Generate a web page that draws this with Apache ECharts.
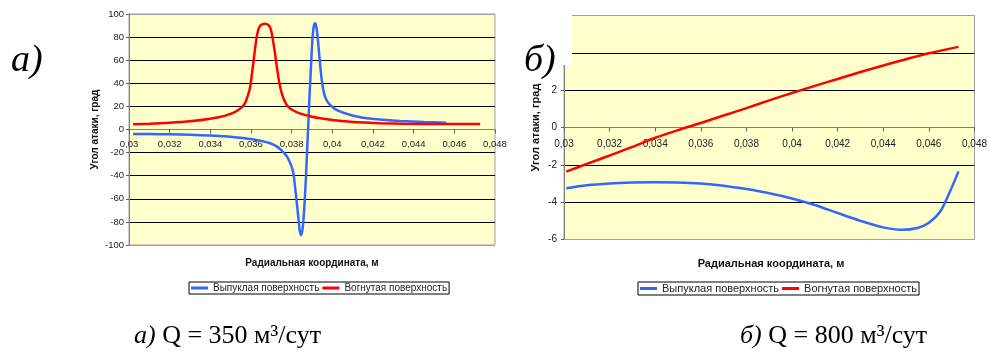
<!DOCTYPE html>
<html><head><meta charset="utf-8">
<script src="https://cdn.jsdelivr.net/npm/echarts@6/dist/echarts.min.js"></script>
<style>html,body{margin:0;padding:0;background:#fff}#c{width:990px;height:352px}</style>
</head><body><div id="c"></div>
<script>
// ---- data ----
const seriesNames = ['Выпуклая поверхность', 'Вогнутая поверхность'];
const xAxisTitle = 'Радиальная координата, м';
const yAxisTitle = 'Угол атаки, град';
const xTicks = [0.03, 0.048, 0.002];      // min, max, step (both panels)
const aYTicks = [-100, 100, 20];          // panel а)
const bYTicks = [-6, 6, 2];               // panel б)
const panelLabels = ['а)', 'б)'];
const captions = ['а) Q = 350 м³/сут', 'б) Q = 800 м³/сут'];

// panel а) Q = 350
const aConvex = [[0.0302,-3.9],[0.031,-4.0],[0.032,-4.2],[0.033,-4.6],[0.034,-5.3],[0.035,-6.2],[0.0356,-7.4],[0.0362,-8.8],[0.0366,-10.3],[0.0370,-12.3],[0.03726,-14.6],[0.0375,-18],[0.03775,-23],[0.0379,-28],[0.03805,-35],[0.03813,-44],[0.0382,-55],[0.03828,-68],[0.03835,-80],[0.0384,-88],[0.03846,-91.5],[0.03852,-88],[0.03858,-78],[0.03864,-62],[0.0387,-42],[0.03876,-18],[0.03882,5],[0.03888,30],[0.03895,54],[0.039,72],[0.03906,86],[0.03911,91],[0.03916,92],[0.03921,89],[0.03926,83],[0.03933,70],[0.0394,56],[0.03948,43],[0.03957,33],[0.0397,26],[0.0399,21],[0.0402,17],[0.0407,13.6],[0.0412,11.2],[0.0417,9.7],[0.0425,8.4],[0.04333,7.4],[0.0445,6.5],[0.0456,5.9]];
const aConcave = [[0.0302,4.5],[0.031,5.0],[0.032,5.9],[0.033,7.2],[0.034,9.4],[0.0347,11.8],[0.0352,15],[0.0355,18.5],[0.0357,22.5],[0.0358,27],[0.03595,36],[0.03603,46],[0.03611,57],[0.0362,70],[0.03628,80],[0.03636,86.5],[0.03645,89.8],[0.03655,91],[0.03666,91.5],[0.03677,91.2],[0.03688,90],[0.03696,87.5],[0.03703,82.5],[0.0371,75],[0.03718,66],[0.03726,55.5],[0.03734,46],[0.03742,38],[0.03751,31.5],[0.03763,25.5],[0.03777,21],[0.038,17.3],[0.0384,14],[0.0389,11.5],[0.0394,9.7],[0.0401,8.0],[0.04087,6.8],[0.0416,6.0],[0.04234,5.4],[0.0435,5.0],[0.0453,4.8],[0.04727,4.8]];
// panel б) Q = 800
const bConvex = [[0.0301,-3.26],[0.031,-3.1],[0.032,-3.0],[0.033,-2.95],[0.034,-2.93],[0.035,-2.94],[0.036,-3.0],[0.037,-3.12],[0.038,-3.3],[0.039,-3.52],[0.040,-3.8],[0.041,-4.15],[0.042,-4.58],[0.043,-5.0],[0.044,-5.35],[0.0448,-5.48],[0.0455,-5.38],[0.046,-5.1],[0.0465,-4.5],[0.0469,-3.5],[0.0473,-2.35]];
const bConcave = [[0.0301,-2.36],[0.031,-1.95],[0.032,-1.5],[0.033,-1.04],[0.034,-0.55],[0.035,-0.14],[0.036,0.24],[0.037,0.64],[0.038,1.04],[0.039,1.45],[0.040,1.85],[0.041,2.23],[0.042,2.6],[0.043,2.97],[0.044,3.32],[0.045,3.66],[0.046,3.98],[0.0473,4.32]];

// ---- chart ----
const BLUE = '#3366FF', RED = '#FF0000', BG = '#FFFFCC';
const fmtX = v => (Math.round(v * 1000) / 1000).toString().replace('.', ',');
function splitColors(t) {
  const n = Math.round((t[1] - t[0]) / t[2]) + 1;
  const arr = [];
  for (let i = 0; i < n; i++) arr.push(i === 0 || i === n - 1 ? '#a0a0a0' : '#000');
  return arr;
}
function xAx(gi, fs, margin, off) {
  return {
    type: 'value', gridIndex: gi, min: xTicks[0], max: xTicks[1], interval: xTicks[2],
    position: 'bottom', offset: off,
    axisLine: { onZero: false, lineStyle: { color: '#808080', width: 1 } },
    axisTick: { show: true, length: 4, lineStyle: { color: '#606060' } },
    axisLabel: { formatter: fmtX, fontSize: fs, color: '#222', margin: margin, fontFamily: 'Arial, Liberation Sans', showMinLabel: true, showMaxLabel: true },
    splitLine: { show: false }
  };
}
function yAx(gi, t, fs, margin, gap, nfs) {
  return {
    type: 'value', gridIndex: gi, min: t[0], max: t[1], interval: t[2],
    name: yAxisTitle, nameLocation: 'middle', nameGap: gap, nameRotate: 90, nameMoveOverlap: false,
    nameTextStyle: { fontSize: nfs, fontWeight: 'bold', color: '#111', fontFamily: 'Arial, Liberation Sans' },
    axisLine: { show: true, onZero: false, lineStyle: { color: '#808080', width: 1 } },
    axisTick: { show: true, length: 3, lineStyle: { color: '#606060' } },
    axisLabel: { fontSize: fs, color: '#222', margin: margin, fontFamily: 'Arial, Liberation Sans' },
    splitLine: { show: true, lineStyle: { color: splitColors(t), width: 1 } }
  };
}
function ser(name, data, xi, color) {
  return { type: 'line', name: name, data: data, xAxisIndex: xi, yAxisIndex: xi,
    smooth: 0.3, showSymbol: false, symbol: 'none',
    lineStyle: { color: color, width: 2.5 }, itemStyle: { color: color }, z: 3, animation: false };
}
function legend(left, fs, gap) {
  return { left: left, top: 282, orient: 'horizontal', data: seriesNames,
    icon: 'rect', itemWidth: 17, itemHeight: 3, itemGap: gap, padding: [1, 2],
    borderColor: '#000', borderWidth: 1, backgroundColor: '#fff',
    textStyle: { fontSize: fs, color: '#222', fontFamily: 'Arial, Liberation Sans' }, selectedMode: false };
}

const chart = echarts.init(document.getElementById('c'), null, { renderer: 'canvas' });
chart.setOption({
  backgroundColor: '#fff',
  animation: false,
  grid: [
    { left: 129, top: 14, width: 366, height: 231, show: true, backgroundColor: BG, borderColor: '#a0a0a0', borderWidth: 1 },
    { left: 564, top: 15.5, width: 413, height: 224, show: true, backgroundColor: BG, borderColor: '#a0a0a0', borderWidth: 1 }
  ],
  xAxis: [xAx(0, 9.5, 9.5, -115.5), xAx(1, 10, 11.5, -112)],
  yAxis: [yAx(0, aYTicks, 9.5, 5, 29, 10), yAx(1, bYTicks, 10, 7, 23, 11)],
  legend: [legend(189, 10, 3), legend(638, 11, 3)],
  series: [
    ser(seriesNames[0], aConvex, 0, BLUE), ser(seriesNames[1], aConcave, 0, RED),
    ser(seriesNames[0], bConvex, 1, BLUE), ser(seriesNames[1], bConcave, 1, RED)
  ],
  graphic: [
    { type: 'rect', z: 100, shape: { x: 500, y: 0, width: 72, height: 65 }, style: { fill: '#fff' } },
    { type: 'text', z: 101, style: { text: panelLabels[0], x: 11, y: 42, font: 'italic 38px "Liberation Serif", serif', fill: '#000', align: 'left', verticalAlign: 'alphabetic' } },
    { type: 'text', z: 101, style: { text: panelLabels[1], x: 524, y: 42, font: 'italic 38px "Liberation Serif", serif', fill: '#000', align: 'left', verticalAlign: 'alphabetic' } },
    { type: 'text', z: 101, style: { text: xAxisTitle, x: 312, y: 263, font: 'bold 10px Arial, "Liberation Sans"', fill: '#111', align: 'center', verticalAlign: 'middle' } },
    { type: 'text', z: 101, style: { text: xAxisTitle, x: 771, y: 264, font: 'bold 11px Arial, "Liberation Sans"', fill: '#111', align: 'center', verticalAlign: 'middle' } },
    { type: 'text', z: 101, style: { rich: { i: { font: 'italic 26px "Liberation Serif", serif', fill: '#000' }, n: { font: '26px "Liberation Serif", serif', fill: '#000' } }, text: '{i|' + captions[0].slice(0, 2) + '}{n|' + captions[0].slice(2) + '}', x: 134, y: 336, align: 'left', verticalAlign: 'middle' } },
    { type: 'text', z: 101, style: { rich: { i: { font: 'italic 26px "Liberation Serif", serif', fill: '#000' }, n: { font: '26px "Liberation Serif", serif', fill: '#000' } }, text: '{i|' + captions[1].slice(0, 2) + '}{n|' + captions[1].slice(2) + '}', x: 740, y: 336, align: 'left', verticalAlign: 'middle' } }
  ]
});
</script></body></html>
